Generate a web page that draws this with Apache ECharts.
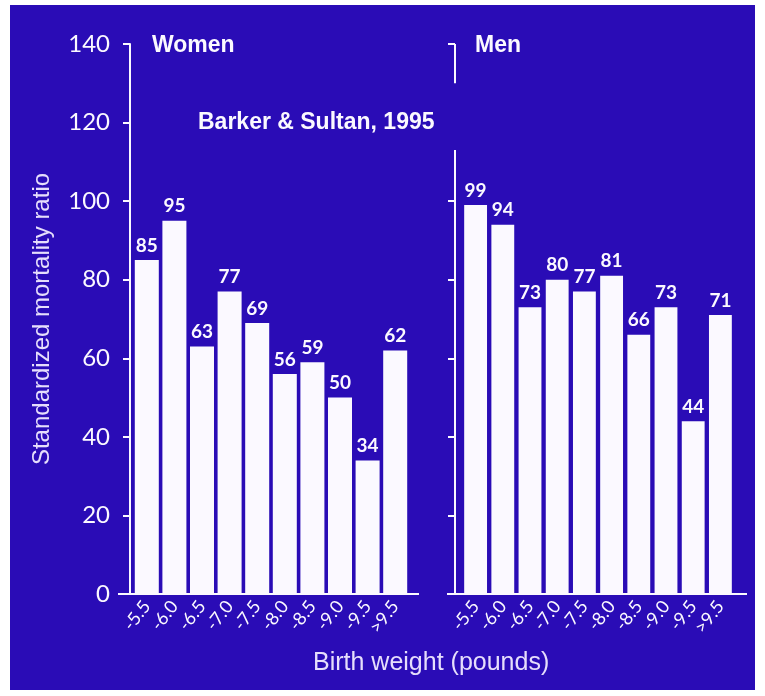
<!DOCTYPE html>
<html>
<head>
<meta charset="utf-8">
<script src="https://cdn.jsdelivr.net/npm/echarts@6/dist/echarts.min.js"></script>
<style>
html,body{margin:0;padding:0;background:#ffffff;}
#chart{width:765px;height:696px;}
</style>
</head>
<body>
<div id="chart"></div>
<script>
const categories = ['-5.5','-6.0','-6.5','-7.0','-7.5','-8.0','-8.5','-9.0','-9.5','>9.5'];
const women = [85, 95, 63, 77, 69, 56, 59, 50, 34, 62];
const men = [99, 94, 73, 80, 77, 81, 66, 73, 44, 71];
const yTickValues = [0, 20, 40, 60, 80, 100, 120, 140];
const menTickValues = [20, 40, 60, 80, 100, 140];
const menAxisSegments = [[140, 130], [113, 0]];

const BG = '#2a0cb6';
const FG = '#fbf9ff';
const chart = echarts.init(document.getElementById('chart'), null, {renderer: 'canvas'});

const G0 = {left: 133, top: 44, width: 276, height: 550};
const G1 = {left: 462, top: 44, width: 272, height: 550};

const labelStyle = {show: true, position: 'top', distance: 5, color: FG, fontSize: 19, fontWeight: 'bold', fontFamily: 'Lato'};

const option = {
  backgroundColor: '#ffffff',
  animation: false,
  title: [
    {text: 'Women', left: 152, top: 34, padding: 0, textStyle: {color: FG, fontSize: 23, fontWeight: 'bold', fontFamily: 'Liberation Sans'}},
    {text: 'Men', left: 475, top: 34, padding: 0, textStyle: {color: FG, fontSize: 23, fontWeight: 'bold', fontFamily: 'Liberation Sans'}},
    {text: 'Barker & Sultan, 1995', left: 198, top: 111, padding: 0, textStyle: {color: FG, fontSize: 23, fontWeight: 'bold', fontFamily: 'Liberation Sans'}},
    {text: 'Birth weight (pounds)', left: 313, top: 651, padding: 0, textStyle: {color: '#e6defc', fontSize: 25, fontWeight: 'normal', fontFamily: 'Liberation Sans'}}
  ],
  grid: [
    Object.assign({}, G0, {containLabel: false}),
    Object.assign({}, G1, {containLabel: false})
  ],
  xAxis: [0, 1].map(i => ({
    type: 'category', gridIndex: i, data: categories,
    axisLine: {show: false}, axisTick: {show: false},
    axisLabel: {color: FG, fontSize: 18, rotate: 52, margin: 9, fontFamily: 'Lato', interval: 0}
  })),
  yAxis: [
    {
      type: 'value', gridIndex: 0, min: 0, max: 140, interval: 20, offset: 3,
      splitLine: {show: false},
      axisLine: {show: true, lineStyle: {color: FG, width: 2}},
      axisTick: {show: true, length: 7, lineStyle: {color: FG, width: 2}},
      axisLabel: {color: FG, fontSize: 24, margin: 20, fontFamily: 'Lato', customValues: yTickValues},
      name: 'Standardized mortality ratio', nameLocation: 'middle', nameGap: 76,
      nameTextStyle: {color: '#e6defc', fontSize: 24, fontFamily: 'Liberation Sans'}
    },
    {
      type: 'value', gridIndex: 1, min: 0, max: 140, interval: 20, offset: 7,
      splitLine: {show: false},
      axisLine: {show: false},
      axisTick: {show: true, length: 7, lineStyle: {color: FG, width: 2}, customValues: menTickValues},
      axisLabel: {show: false}
    }
  ],
  series: [
    {type: 'bar', xAxisIndex: 0, yAxisIndex: 0, data: women, barCategoryGap: '13%', itemStyle: {color: FG}, label: labelStyle},
    {type: 'bar', xAxisIndex: 1, yAxisIndex: 1, data: men, barCategoryGap: '16%', itemStyle: {color: FG}, label: labelStyle}
  ]
};
chart.setOption(option);

// axis decorations derived from the library's scales
const y0 = chart.convertToPixel({yAxisIndex: 0}, 0);
const menX = G1.left - 7;
const graphics = [
  {type: 'rect', z: -10, silent: true, shape: {x: 10, y: 5, width: 745, height: 685}, style: {fill: BG}},
  {type: 'line', shape: {x1: G0.left - 15, y1: y0, x2: G0.left + G0.width + 10, y2: y0}, style: {stroke: FG, lineWidth: 2}},
  {type: 'line', shape: {x1: G1.left - 15, y1: y0, x2: G1.left + G1.width + 13, y2: y0}, style: {stroke: FG, lineWidth: 2}}
];
menAxisSegments.forEach(seg => {
  graphics.push({type: 'line', shape: {
    x1: menX, y1: chart.convertToPixel({yAxisIndex: 1}, seg[0]),
    x2: menX, y2: chart.convertToPixel({yAxisIndex: 1}, seg[1])
  }, style: {stroke: FG, lineWidth: 2}});
});
chart.setOption({graphic: graphics});
</script>
</body>
</html>
